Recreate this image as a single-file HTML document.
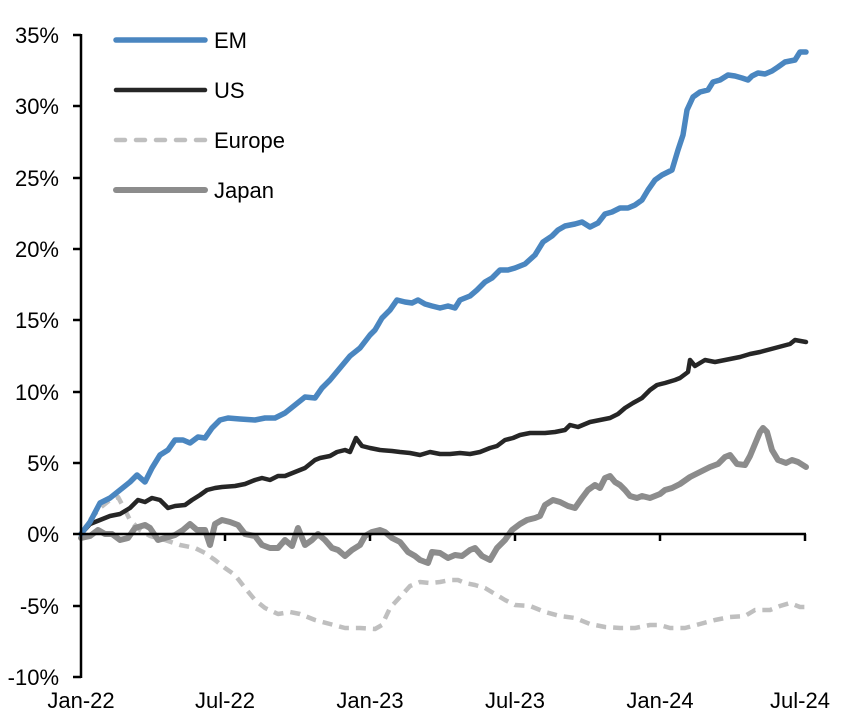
<!DOCTYPE html>
<html><head><meta charset="utf-8"><style>
html,body{margin:0;padding:0;background:#fff;}
svg text{font-family:"Liberation Sans",Arial,sans-serif;font-size:22px;fill:#000;}
</style></head><body>
<svg width="852" height="720" viewBox="0 0 852 720" xmlns="http://www.w3.org/2000/svg">
<g fill="none" stroke-linejoin="round" stroke-linecap="round">
<polyline stroke="#bfbfbf" stroke-width="4.5" stroke-dasharray="10,7" stroke-linecap="butt" points="81,534 90,520 100,508 110,500 118,497 125,510 130,520 140,530 150,536 165,540 180,545 195,548 205,553 215,560 225,568 235,575 245,588 255,600 265,608 278,614 290,612 300,614 315,620 330,624 345,628 360,628 375,629 382,625 390,608 400,597 410,586 420,582 430,583 440,582 450,580 458,580 465,583 475,585 485,588 495,594 505,600 515,605 530,606 545,612 560,616 575,618 590,624 605,627 620,628 635,628 650,625 660,625 670,628 685,628 700,624 715,620 730,617 745,616 755,610 770,610 780,606 790,603 800,607 806,607"/>
<polyline stroke="#8c8c8c" stroke-width="6" points="81,538 90,536 98,530 105,534 112,534 120,540 128,538 135,528 145,525 150,528 158,540 165,538 175,535 183,530 190,524 197,530 205,530 210,545 215,524 222,520 230,522 238,525 245,534 255,536 262,545 270,548 278,548 285,540 292,546 298,528 305,545 312,540 318,534 325,540 332,548 338,550 345,556 352,550 360,545 365,536 372,532 380,530 385,532 392,538 400,542 408,552 415,556 420,560 428,563 432,552 440,553 448,558 455,555 462,556 470,550 475,548 482,556 490,560 497,548 505,540 512,530 520,524 527,520 535,518 540,516 545,505 553,500 560,502 568,506 575,508 582,498 588,490 595,485 600,488 605,478 610,476 615,482 620,485 625,490 630,496 637,498 642,496 650,498 660,494 665,490 672,488 680,484 690,477 700,472 710,467 718,464 725,457 730,455 737,464 745,465 750,456 755,444 760,432 763,428 767,432 772,450 778,460 786,463 792,460 798,462 806,467"/>
<polyline stroke="#262626" stroke-width="4.5" points="81,534 90,524 100,520 110,516 120,514 130,508 138,500 145,502 152,498 160,500 168,508 175,506 185,505 192,500 200,495 207,490 215,488 222,487 235,486 245,484 255,480 262,478 270,480 278,476 285,476 295,472 305,468 315,460 320,458 330,456 337,452 345,450 350,452 356,438 362,446 370,448 380,450 392,451 400,452 410,453 420,455 430,452 440,454 450,454 460,453 470,454 480,452 490,448 497,446 505,440 513,438 520,435 530,433 545,433 555,432 565,430 570,425 578,427 590,422 600,420 610,418 618,414 625,408 633,403 642,398 650,390 657,385 665,383 675,380 680,378 688,372 690,360 695,366 705,360 715,362 725,360 740,357 750,354 760,352 775,348 790,344 795,340 806,342"/>
<polyline stroke="#4a86c0" stroke-width="5.5" points="81,534 90,522 100,503 110,498 120,490 130,482 137,475 145,482 152,468 160,455 168,450 175,440 183,440 190,443 198,437 205,438 212,428 220,420 228,418 240,419 255,420 265,418 275,418 285,413 295,405 305,397 315,398 322,388 330,380 340,368 350,356 360,348 370,335 375,330 382,318 390,310 397,300 405,302 412,303 418,300 425,304 432,306 440,308 448,306 455,308 460,300 470,296 477,290 485,282 492,278 500,270 508,270 515,268 525,264 535,255 543,242 552,236 558,230 565,226 575,224 582,222 590,227 598,223 605,214 612,212 620,208 628,208 635,205 642,200 648,190 655,180 662,175 672,170 678,150 683,135 687,110 693,97 700,92 708,90 713,82 720,80 728,75 735,76 742,78 748,80 752,76 758,73 765,74 772,71 778,67 785,62 795,60 800,52 806,52"/>
</g>
<g stroke="#000" stroke-width="2.5" fill="none">
<line x1="81" y1="34" x2="81" y2="678"/>
<line x1="81" y1="534" x2="806" y2="534"/>
<line x1="73" y1="35" x2="81" y2="35"/><line x1="73" y1="106" x2="81" y2="106"/><line x1="73" y1="178" x2="81" y2="178"/><line x1="73" y1="249" x2="81" y2="249"/><line x1="73" y1="320" x2="81" y2="320"/><line x1="73" y1="392" x2="81" y2="392"/><line x1="73" y1="463" x2="81" y2="463"/><line x1="73" y1="534" x2="81" y2="534"/><line x1="73" y1="606" x2="81" y2="606"/><line x1="73" y1="677" x2="81" y2="677"/>
<line x1="225" y1="534" x2="225" y2="541"/><line x1="370" y1="534" x2="370" y2="541"/><line x1="515" y1="534" x2="515" y2="541"/><line x1="660" y1="534" x2="660" y2="541"/><line x1="805" y1="534" x2="805" y2="541"/>
</g>
<g text-anchor="end">
<text x="59" y="43">35%</text><text x="59" y="114">30%</text><text x="59" y="186">25%</text><text x="59" y="257">20%</text><text x="59" y="328">15%</text><text x="59" y="400">10%</text><text x="59" y="471">5%</text><text x="59" y="542">0%</text><text x="59" y="614">-5%</text><text x="59" y="685">-10%</text>
</g>
<g text-anchor="middle">
<text x="81" y="708">Jan-22</text><text x="225" y="708">Jul-22</text><text x="370" y="708">Jan-23</text><text x="515" y="708">Jul-23</text><text x="660" y="708">Jan-24</text><text x="800" y="708">Jul-24</text>
</g>
<g fill="none" stroke-linecap="round">
<line x1="116" y1="40" x2="205" y2="40" stroke="#4a86c0" stroke-width="5.5"/>
<line x1="116" y1="90" x2="205" y2="90" stroke="#262626" stroke-width="4.5"/>
<line x1="116" y1="140" x2="205" y2="140" stroke="#bfbfbf" stroke-width="4.5" stroke-dasharray="9,11"/>
<line x1="116" y1="190" x2="205" y2="190" stroke="#8c8c8c" stroke-width="6"/>
</g>
<text x="214" y="48">EM</text><text x="214" y="98">US</text><text x="214" y="148">Europe</text><text x="214" y="198">Japan</text>
</svg>
</body></html>
